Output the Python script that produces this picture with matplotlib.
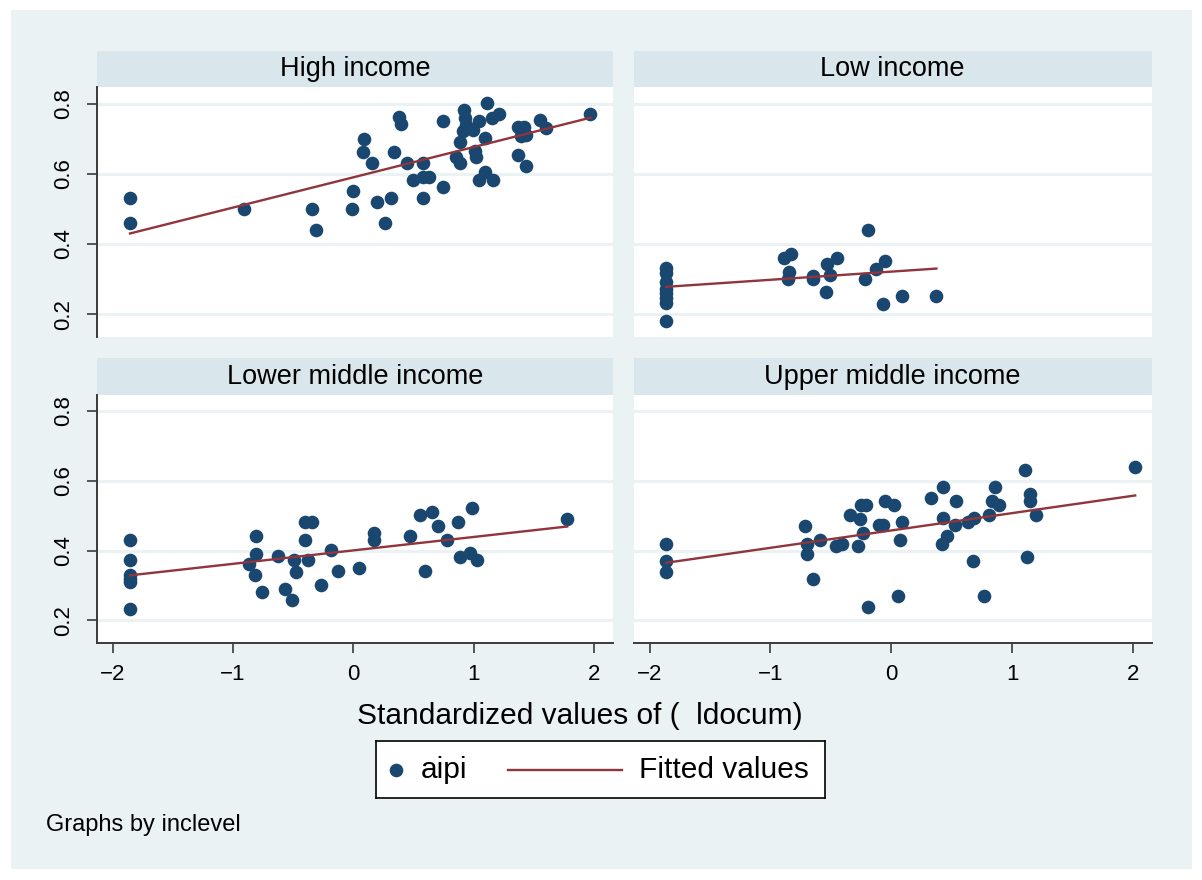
import numpy as np
import matplotlib
matplotlib.use("Agg")
import matplotlib.pyplot as plt
from matplotlib.patches import Rectangle
from matplotlib.lines import Line2D

plt.rcParams['font.family'] = ['Liberation Sans', 'DejaVu Sans']

# ---------------- data ----------------
panel_titles = ["High income", "Low income", "Lower middle income", "Upper middle income"]

high_x = [-1.856, -1.856, -0.911, -0.345, -0.311, -0.006, -0.014, 0.084, 0.076, 0.151,
          0.196, 0.264, 0.311, 0.336, 0.378, 0.398, 0.446, 0.491, 0.575, 0.575,
          0.631, 0.578, 0.743, 0.743, 0.848, 0.887, 0.887, 0.915, 0.923, 0.937,
          0.909, 0.992, 1.041, 1.111, 1.152, 1.207, 1.094, 1.006, 1.020, 1.039,
          1.094, 1.158, 1.365, 1.420, 1.393, 1.434, 1.365, 1.434, 1.545, 1.600, 1.968]
high_y = [0.530, 0.460, 0.500, 0.500, 0.440, 0.550, 0.500, 0.700, 0.663, 0.632,
          0.520, 0.461, 0.531, 0.663, 0.761, 0.741, 0.632, 0.581, 0.632, 0.590,
          0.590, 0.531, 0.562, 0.751, 0.649, 0.632, 0.692, 0.783, 0.759, 0.740,
          0.721, 0.726, 0.751, 0.802, 0.759, 0.771, 0.702, 0.664, 0.649, 0.581,
          0.605, 0.581, 0.733, 0.733, 0.707, 0.711, 0.654, 0.621, 0.752, 0.732, 0.771]

low_x = [-1.862, -1.862, -1.862, -1.862, -1.862, -1.862, -1.862, -1.862,
         -0.886, -0.831, -0.846, -0.857, -0.651, -0.651, -0.543, -0.529, -0.503,
         -0.446, -0.220, -0.189, -0.129, -0.051, -0.069, 0.089, 0.374]
low_y = [0.331, 0.316, 0.292, 0.273, 0.259, 0.245, 0.231, 0.181,
         0.361, 0.371, 0.321, 0.299, 0.309, 0.299, 0.262, 0.342, 0.311,
         0.361, 0.300, 0.440, 0.330, 0.351, 0.229, 0.251, 0.251]

lmid_x = [-1.855, -1.855, -1.855, -1.855, -1.855, -1.855,
          -0.869, -0.807, -0.807, -0.819, -0.757, -0.628, -0.572, -0.513, -0.491,
          -0.477, -0.404, -0.342, -0.404, -0.381, -0.266, -0.188, -0.132, 0.042,
          0.168, 0.168, 0.468, 0.552, 0.653, 0.594, 0.701, 0.779, 0.869, 0.883,
          0.967, 0.984, 1.026, 1.775]
lmid_y = [0.430, 0.372, 0.329, 0.319, 0.310, 0.233,
          0.362, 0.442, 0.391, 0.329, 0.281, 0.383, 0.291, 0.259, 0.374,
          0.339, 0.481, 0.481, 0.431, 0.372, 0.302, 0.401, 0.340, 0.351,
          0.451, 0.429, 0.442, 0.501, 0.510, 0.340, 0.470, 0.431, 0.481, 0.382,
          0.393, 0.521, 0.372, 0.491]

umid_x = [-1.863, -1.863, -1.863, -0.717, -0.694, -0.697, -0.649, -0.594, -0.457,
          -0.409, -0.343, -0.274, -0.260, -0.251, -0.206, -0.237, -0.194, -0.103,
          -0.066, -0.054, 0.026, 0.091, 0.074, 0.057, 0.331, 0.431, 0.426, 0.463,
          0.423, 0.540, 0.529, 0.634, 0.686, 0.674, 0.771, 0.806, 0.834, 0.863,
          0.891, 1.106, 1.149, 1.149, 1.197, 1.126, 2.020]
umid_y = [0.420, 0.371, 0.339, 0.470, 0.420, 0.391, 0.319, 0.431, 0.412,
          0.420, 0.501, 0.412, 0.491, 0.532, 0.532, 0.450, 0.238, 0.472,
          0.472, 0.542, 0.532, 0.482, 0.431, 0.270, 0.551, 0.582, 0.494, 0.442,
          0.418, 0.542, 0.472, 0.482, 0.493, 0.371, 0.270, 0.501, 0.542, 0.582,
          0.530, 0.630, 0.561, 0.542, 0.501, 0.382, 0.641]

# fitted values at the smallest and largest x of each panel
fit_high = [0.430, 0.760]
fit_low = [0.278, 0.330]
fit_lmid = [0.329, 0.469]
fit_umid = [0.365, 0.558]

series = [(high_x, high_y, fit_high), (low_x, low_y, fit_low),
          (lmid_x, lmid_y, fit_lmid), (umid_x, umid_y, fit_umid)]

x_ticks = [-2, -1, 0, 1, 2]
y_ticks = [0.2, 0.4, 0.6, 0.8]
x_label = "Standardized values of (  ldocum)"
legend_labels = ["aipi", "Fitted values"]
note = "Graphs by inclevel"

# ---------------- style ----------------
W, H = 1202, 880
BG = "#EAF2F3"
STRIP = "#D9E6EB"
GRID = "#EAF2F3"
NAVY = "#1A476F"
MAROON = "#90353B"
AXC = "#3a3a3a"

fig = plt.figure(figsize=(W / 100, H / 100), dpi=100)
fig.patch.set_facecolor("white")
fig.patches.append(Rectangle((11 / W, 1 - 869 / H), (1192 - 11) / W, (869 - 10) / H,
                             transform=fig.transFigure, facecolor=BG, edgecolor="none", zorder=-10))


def rect(x0, y0, x1, y1):
    return [x0 / W, 1 - y1 / H, (x1 - x0) / W, (y1 - y0) / H]


cols = [(97, 613), (634, 1151.5)]
rows = [(50.7, 87.5, 337), (358, 395, 643)]

for i, (title, (xs, ys, fit)) in enumerate(zip(panel_titles, series)):
    r, c = divmod(i, 2)
    x0, x1 = cols[c]
    s0, p0, p1 = rows[r]
    # strip
    sax = fig.add_axes(rect(x0, s0, x1, p0))
    sax.set_facecolor(STRIP)
    for sp in sax.spines.values():
        sp.set_visible(False)
    sax.set_xticks([])
    sax.set_yticks([])
    sax.text(0.5, 0.5, title, ha="center", va="center", fontsize=19.5, transform=sax.transAxes)

    ax = fig.add_axes(rect(x0, p0, x1, p1))
    ax.set_facecolor("white")
    ax.set_xlim(-2.13, 2.155)
    ax.set_ylim(0.135, 0.846)
    for yv in y_ticks:
        ax.axhline(yv, color=GRID, lw=2.2, zorder=0)
    xa = np.array(xs)
    ya = np.array(ys)
    xl = [xa.min(), xa.max()]
    ax.plot(xa, ya, "o", color=NAVY, markersize=9.8, markeredgewidth=0, zorder=3)
    ax.plot(xl, fit, color=MAROON, lw=1.7, zorder=4)

    for sp in ["top", "right"]:
        ax.spines[sp].set_visible(False)
    ax.spines["left"].set_visible(c == 0)
    ax.spines["bottom"].set_visible(r == 1)
    ax.spines["left"].set_color(AXC)
    ax.spines["bottom"].set_color(AXC)
    ax.spines["left"].set_linewidth(1.4)
    ax.spines["bottom"].set_linewidth(1.4)

    if c == 0:
        ax.set_yticks(y_ticks)
        ax.set_yticklabels([f"{v:.1f}" for v in y_ticks], rotation=90, va="center", fontsize=16)
        ax.tick_params(axis="y", length=7.2, width=1.2, color=AXC, pad=9)
    else:
        ax.set_yticks([])
    if r == 1:
        ax.set_xticks(x_ticks)
        ax.set_xticklabels([f"{v}".replace("-", "\u2212") for v in x_ticks], fontsize=16)
        ax.tick_params(axis="x", length=7.2, width=1.2, color=AXC, pad=8)
    else:
        ax.set_xticks([])

fig.text(580 / W, 1 - 716 / H, x_label, ha="center", va="center", fontsize=21.5)

# legend
lax = fig.add_axes(rect(376, 741, 825, 798))
lax.set_xlim(376, 825)
lax.set_ylim(798, 741)
lax.set_facecolor("white")
for sp in lax.spines.values():
    sp.set_color("black")
    sp.set_linewidth(1.2)
lax.set_xticks([])
lax.set_yticks([])
lax.add_line(Line2D([396], [769.5], marker="o", color=NAVY, markersize=9.8, markeredgewidth=0))
lax.text(421, 769.5, legend_labels[0], ha="left", va="center", fontsize=21.5)
lax.add_line(Line2D([508, 622], [769.5, 769.5], color=MAROON, lw=1.7))
lax.text(639, 769.5, legend_labels[1], ha="left", va="center", fontsize=21.5)

fig.text(46 / W, 1 - 825 / H, note, ha="left", va="center", fontsize=17)

fig.savefig("out.png", dpi=100, facecolor=fig.get_facecolor())
